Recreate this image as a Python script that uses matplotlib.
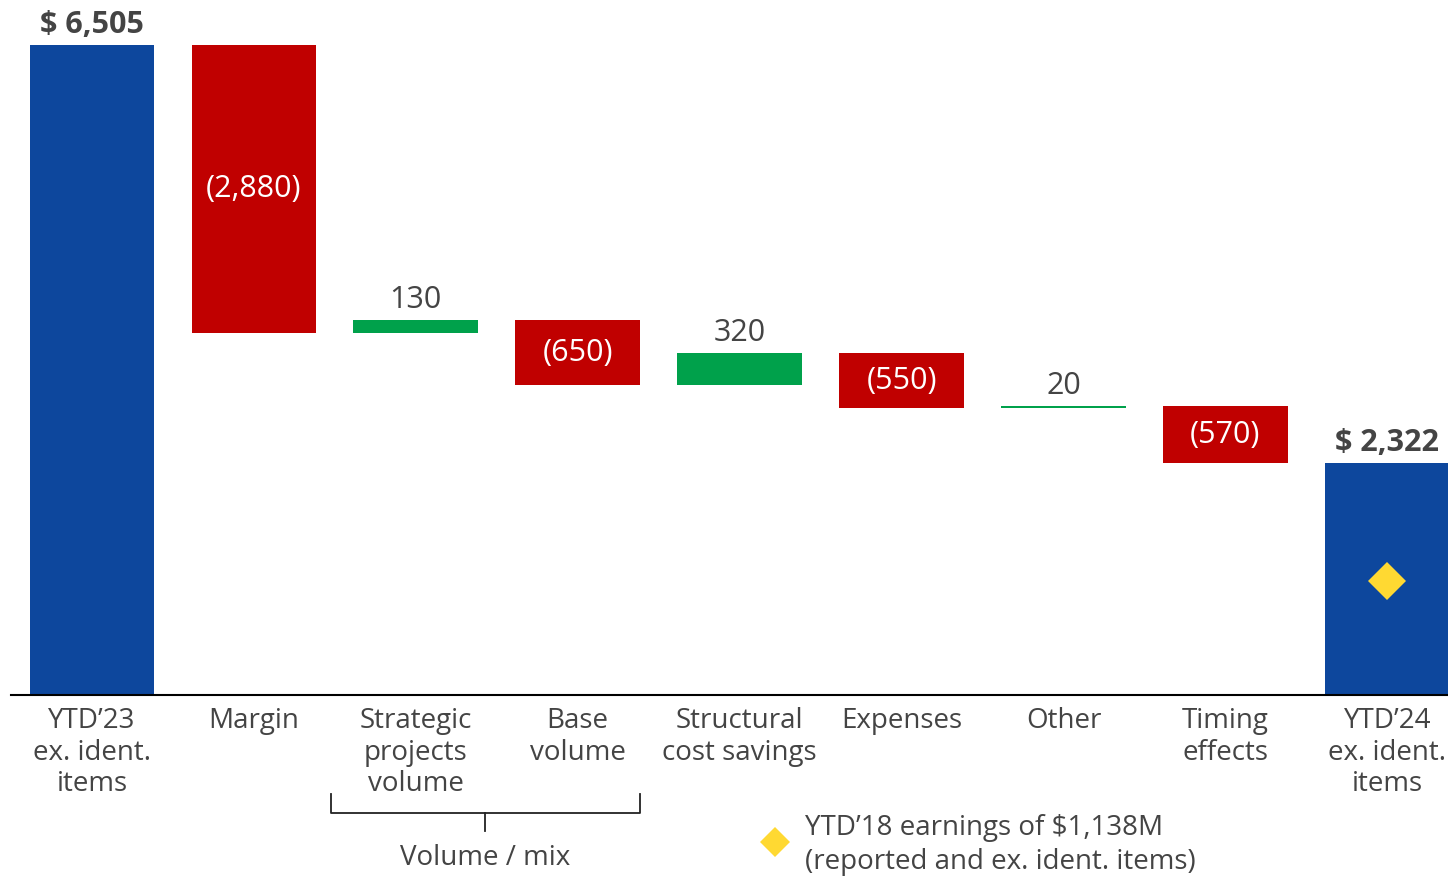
"""Earnings bridge waterfall: YTD'23 -> YTD'24 ex. identified items."""

import matplotlib
matplotlib.use("Agg")
import matplotlib.pyplot as plt
import matplotlib.transforms as mtransforms

# ---- data ----
categories = [
    "YTD\u201923\nex. ident.\nitems", "Margin", "Strategic\nprojects\nvolume",
    "Base\nvolume", "Structural\ncost savings", "Expenses", "Other",
    "Timing\neffects", "YTD\u201924\nex. ident.\nitems",
]
start_value = 6505
deltas = [-2880, 130, -650, 320, -550, 20, -570]
end_value = 2322
ytd18_value = 1138
bracket_label = "Volume / mix"
legend_text = "YTD\u201918 earnings of $1,138M\n(reported and ex. ident. items)"

BLUE = "#0D479D"
RED = "#C00000"
GREEN = "#00A14B"
YELLOW = "#FFD932"
TEXT = "#444444"
LABEL_FS = 20
VALUE_FS = 22

plt.rcParams["font.family"] = ["Open Sans", "DejaVu Sans"]

W, H, DPI = 1448, 878, 100
fig = plt.figure(figsize=(W / DPI, H / DPI), dpi=DPI, facecolor="white")
ax = fig.add_axes([11 / W, (H - 696) / H, (W - 11) / W, 696 / H])
ax.set_facecolor("none")

bar_w = 0.77
n = len(categories)
xs = list(range(n))

# start bar
ax.bar(xs[0], start_value, width=bar_w, color=BLUE)
ax.annotate(f"$ {start_value:,}", (xs[0], start_value), xytext=(0, 4),
            textcoords="offset points", ha="center", va="bottom",
            fontsize=VALUE_FS, fontweight="bold", color=TEXT)

# delta bars
level = start_value
for i, d in enumerate(deltas, start=1):
    bottom = level if d > 0 else level + d
    color = GREEN if d > 0 else RED
    ax.bar(xs[i], abs(d), bottom=bottom, width=bar_w, color=color)
    if d > 0:
        ax.annotate(f"{d:,}", (xs[i], level + d), xytext=(0, 4),
                    textcoords="offset points", ha="center", va="bottom",
                    fontsize=VALUE_FS, color=TEXT)
    else:
        ax.text(xs[i], bottom + abs(d) / 2, f"({abs(d):,})", ha="center",
                va="center", fontsize=VALUE_FS, color="white")
    level += d

# end bar
ax.bar(xs[-1], end_value, width=bar_w, color=BLUE)
ax.annotate(f"$ {end_value:,}", (xs[-1], end_value), xytext=(0, 4),
            textcoords="offset points", ha="center", va="bottom",
            fontsize=VALUE_FS, fontweight="bold", color=TEXT)
ax.plot(xs[-1], ytd18_value, marker="D", markersize=19, color=YELLOW,
        markeredgewidth=0, clip_on=False)

ax.set_xlim(-0.5, 8.375)
ax.set_ylim(0, 6960)
ax.set_yticks([])
ax.set_xticks(xs)
ax.set_xticklabels(categories, fontsize=LABEL_FS, color=TEXT, linespacing=1.17)
ax.tick_params(axis="x", length=0, pad=8)
for s in ["top", "right", "left"]:
    ax.spines[s].set_visible(False)
ax.spines["bottom"].set_color("black")
ax.spines["bottom"].set_linewidth(1.5)

# bracket under the volume categories
trans = mtransforms.blended_transform_factory(ax.transData, fig.transFigure)
bl, br = 1.475, 3.383
bm = (bl + br) / 2
y_top, y_bar, y_tip = 1 - 795 / H, 1 - 814 / H, 1 - 832 / H
ax.plot([bl, bl, br, br], [y_top, y_bar, y_bar, y_top], color="#222222",
        lw=1.3, transform=trans, clip_on=False)
ax.plot([bm, bm], [y_bar, y_tip], color="#222222", lw=1.3,
        transform=trans, clip_on=False)
ax.text(bm, 1 - 858 / H, bracket_label, transform=trans, ha="center",
        va="center", fontsize=LABEL_FS, color=TEXT)

# legend for the diamond
fig.lines.append(plt.Line2D([775 / W], [1 - 843 / H], marker="D",
                            markersize=15, color=YELLOW, markeredgewidth=0,
                            transform=fig.transFigure))
fig.text(805 / W, 1 - 845 / H, legend_text, ha="left", va="center",
         fontsize=LABEL_FS, color=TEXT, linespacing=1.27)

fig.savefig("out.png", dpi=DPI, facecolor=fig.get_facecolor())
